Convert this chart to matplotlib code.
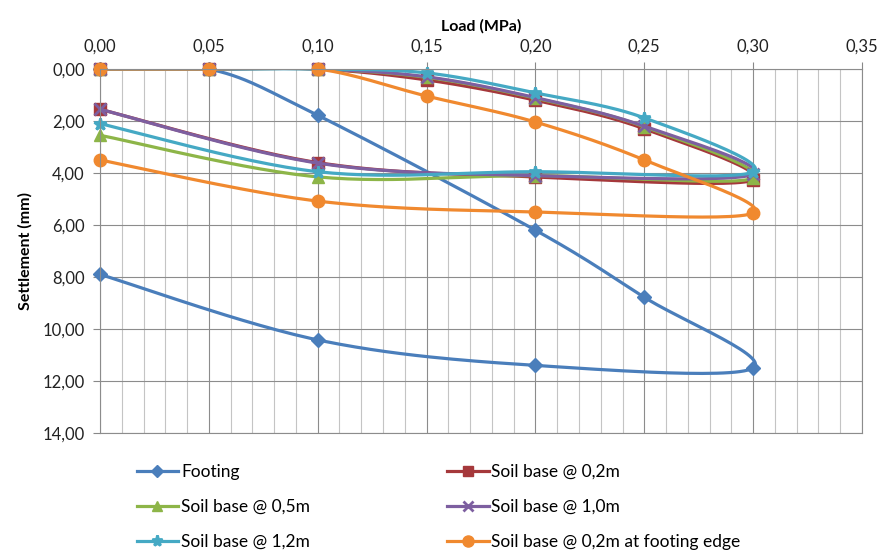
import numpy as np
import matplotlib.pyplot as plt
from matplotlib.ticker import MultipleLocator, FuncFormatter

plt.rcParams['font.family'] = ['Lato', 'DejaVu Sans']

# load path: loading up to 0.30 MPa, then unloading
load_footing = [0.00, 0.05, 0.10, 0.20, 0.25, 0.30, 0.20, 0.10, 0.00]
footing = [0.00, 0.00, 1.78, 6.20, 8.78, 11.50, 11.40, 10.42, 7.90]

load_soil = [0.00, 0.05, 0.10, 0.15, 0.20, 0.25, 0.30, 0.20, 0.10, 0.00]
soil_02 = [0.00, 0.00, 0.00, 0.42, 1.20, 2.30, 4.27, 4.15, 3.60, 1.55]
soil_05 = [0.00, 0.00, 0.00, 0.32, 1.12, 2.22, 4.20, 4.10, 4.15, 2.55]
soil_10 = [0.00, 0.00, 0.00, 0.30, 1.10, 2.20, 4.05, 4.10, 3.62, 1.55]
soil_12 = [0.00, 0.00, 0.00, 0.15, 0.92, 1.88, 3.96, 3.95, 3.95, 2.10]
soil_edge = [0.00, 0.00, 0.00, 1.04, 2.04, 3.50, 5.54, 5.50, 5.08, 3.50]

series = [
    ("Footing", load_footing, footing, "#4A7EBB", "D", 7),
    ("Soil base @ 0,2m", load_soil, soil_02, "#A5383B", "s", 8),
    ("Soil base @ 0,5m", load_soil, soil_05, "#8DB548", "^", 8),
    ("Soil base @ 1,0m", load_soil, soil_10, "#7D5FA0", "x", 8),
    ("Soil base @ 1,2m", load_soil, soil_12, "#45A9C4", "*", 9),
    ("Soil base @ 0,2m at footing edge", load_soil, soil_edge, "#F0892F", "o", 9),
]


def smooth(x, y, n=30):
    # excel-like smoothed line (bezier through the points)
    p = np.column_stack([x, y]).astype(float)
    pts = []
    for i in range(len(p) - 1):
        p0 = p[max(i - 1, 0)]
        p1 = p[i]
        p2 = p[i + 1]
        p3 = p[min(i + 2, len(p) - 1)]
        c1 = p1 + (p2 - p0) / 6
        c2 = p2 - (p3 - p1) / 6
        t = np.linspace(0, 1, n)[:, None]
        seg = ((1 - t) ** 3) * p1 + 3 * ((1 - t) ** 2) * t * c1 + 3 * (1 - t) * t ** 2 * c2 + t ** 3 * p2
        pts.append(seg)
    pts = np.vstack(pts)
    return pts[:, 0], pts[:, 1]


fig = plt.figure(figsize=(8.8, 5.58), dpi=100)
ax = fig.add_axes([100 / 880, 1 - 433 / 558, 762 / 880, 364 / 558])

for name, xs, ys, col, mk, ms in series:
    sx, sy = smooth(xs, ys)
    ax.plot(sx, sy, color=col, lw=2.3, solid_capstyle="round")
    mew = 2 if mk in ("x", "*") else 1
    ax.plot(xs, ys, linestyle="none", marker=mk, color=col, ms=ms, mew=mew, clip_on=False)
    # proxy for legend
    ax.plot([], [], color=col, lw=2.3, marker=mk, ms=ms - 1, mew=mew, label=name)

ax.set_xlim(0, 0.35)
ax.set_ylim(14, 0)
ax.xaxis.set_major_locator(MultipleLocator(0.05))
ax.xaxis.set_minor_locator(MultipleLocator(0.01))
ax.yaxis.set_major_locator(MultipleLocator(2))
ax.xaxis.set_major_formatter(FuncFormatter(lambda v, p: f"{v:.2f}".replace(".", ",")))
ax.yaxis.set_major_formatter(FuncFormatter(lambda v, p: f"{v:.2f}".replace(".", ",")))
ax.xaxis.tick_top()
ax.xaxis.set_label_position("top")
ax.tick_params(axis="x", which="minor", length=0)
ax.tick_params(axis="both", which="major", length=5, color="#888888", labelsize=12, labelcolor="#222222")
ax.tick_params(axis="y", pad=6)
ax.tick_params(axis="x", pad=5)
ax.grid(True, which="major", color="#8c8c8c", lw=0.8)
ax.grid(True, which="minor", axis="x", color="#c4c4c4", lw=0.8)
ax.set_axisbelow(True)
for s in ax.spines.values():
    s.set_color("#8c8c8c")
    s.set_linewidth(0.8)

ax.set_xlabel("Load (MPa)", fontsize=11.5, fontweight="bold", labelpad=6)
ax.set_ylabel("Settlement (mm)", fontsize=11.5, fontweight="bold", labelpad=7)

handles, labels = ax.get_legend_handles_labels()
# reorder so rows read left-right like the reference
order = [0, 2, 4, 1, 3, 5]
fig.legend([handles[i] for i in order], [labels[i] for i in order],
           loc="upper left", bbox_to_anchor=(121 / 880, 1 - 448 / 558),
           ncol=2, frameon=False, fontsize=12.5, columnspacing=7.9,
           handlelength=2.4, handletextpad=0.15, labelspacing=1.1)

fig.savefig("out.png", dpi=100)
